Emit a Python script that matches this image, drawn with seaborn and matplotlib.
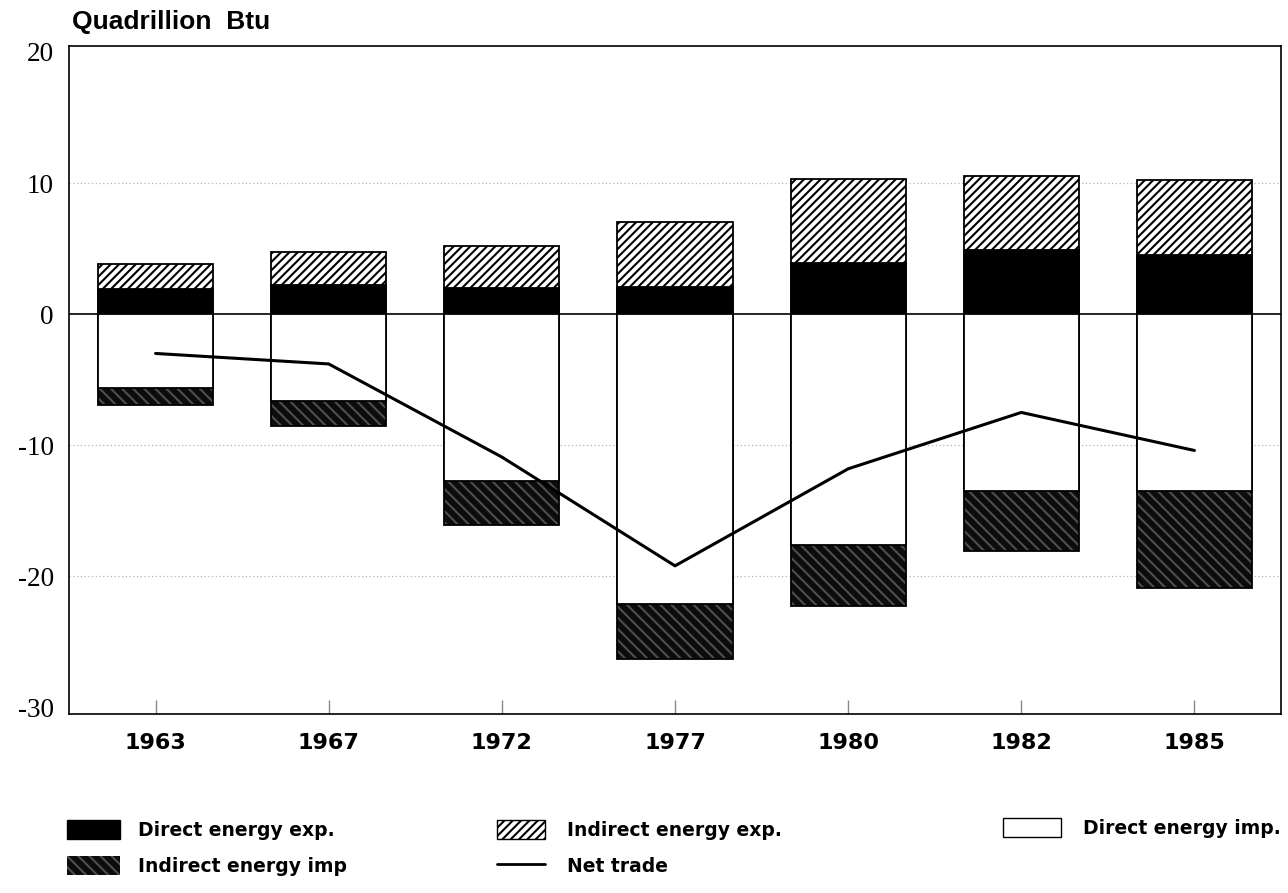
import numpy as np
import matplotlib
matplotlib.use("Agg")
import matplotlib.pyplot as plt
import seaborn as sns
from matplotlib.patches import Patch
from matplotlib.lines import Line2D

# ---- data ----
years = ["1963", "1967", "1972", "1977", "1980", "1982", "1985"]
direct_exp = [1.9, 2.2, 2.0, 2.1, 3.9, 4.9, 4.5]
indirect_exp = [1.9, 2.5, 3.2, 4.9, 6.4, 5.6, 5.7]
direct_imp = [5.6, 6.6, 12.7, 22.1, 17.6, 13.5, 13.5]
indirect_imp = [1.3, 1.9, 3.4, 4.2, 4.7, 4.6, 7.4]
net_trade = [-3.0, -3.8, -10.9, -19.2, -11.8, -7.5, -10.4]
ytick_vals = [20, 10, 0, -10, -20, -30]
ytick_labels = ["20", "10", "0", "-10", "-20", "-30"]
grid_vals = [10, -10, -20]
legend_labels = ["Direct energy exp.", "Indirect energy exp.", "Direct energy imp.",
                 "Indirect energy imp", "Net trade"]
unit_label = "Quadrillion  Btu"

sns.set_theme(style="white")
plt.rcParams["font.family"] = ["DejaVu Sans"]
plt.rcParams["hatch.linewidth"] = 1.5
plt.rcParams["text.color"] = "black"
plt.rcParams["xtick.color"] = "black"
plt.rcParams["ytick.color"] = "black"

exp_total = np.array(direct_exp) + np.array(indirect_exp)
imp_total = -(np.array(direct_imp) + np.array(indirect_imp))
imp_direct = -np.array(direct_imp)

fig = plt.figure(figsize=(12.88, 8.93), dpi=100)
ax = fig.add_axes([69 / 1288, 1 - 714 / 893, (1281 - 69) / 1288, (714 - 46) / 893])

W = 0.665
DARK = "#0c0c0c"
HATCH_GRAY = "#4e4e4e"
EXP_HATCH = "////"
IMP_HATCH = "\\\\\\"
common = dict(width=W, saturation=1, errorbar=None, ax=ax, zorder=3)

# exports: total (hatched) first, direct (black) over it
sns.barplot(x=years, y=exp_total, color="white", edgecolor="black", linewidth=1.3,
            hatch=EXP_HATCH, **common)
sns.barplot(x=years, y=direct_exp, color="black", edgecolor="black", linewidth=1.3, **common)
# imports: total (dark hatched) first, direct (white) over it
sns.barplot(x=years, y=imp_total, color=DARK, edgecolor=HATCH_GRAY, linewidth=0,
            hatch=IMP_HATCH, **common)
sns.barplot(x=years, y=imp_total, color=DARK, edgecolor="black", linewidth=1.3,
            fill=False, **common)
sns.barplot(x=years, y=imp_direct, color="white", edgecolor="black", linewidth=1.3, **common)

# net trade line
sns.lineplot(x=np.arange(len(years)), y=net_trade, color="black", linewidth=2.2,
             ax=ax, zorder=6)

ax.axhline(0, color="black", linewidth=1.2, zorder=2)
for g in grid_vals:
    ax.axhline(g, color="#b5b5b5", linestyle=(0, (1, 2)), linewidth=0.9, zorder=1)

ax.set_xlim(-0.5, 6.5)
ax.set_ylim(-30.5, 20.45)
ax.set_yticks(ytick_vals, labels=ytick_labels)
ax.set_xticks(np.arange(len(years)), labels=years)
ax.set_xlabel("")
ax.set_ylabel("")
ax.grid(False)

ax.tick_params(axis="x", direction="in", length=10, width=1, color="#888888",
               pad=14, labelsize=16, bottom=True, labelcolor="black")
for lbl in ax.get_xticklabels():
    lbl.set_fontweight("bold")
    lbl.set_family("DejaVu Sans")
ax.tick_params(axis="y", length=0, pad=11, labelsize=19.5, labelcolor="black")
for lbl in ax.get_yticklabels():
    lbl.set_family("Liberation Serif")

for s in ax.spines.values():
    s.set_visible(True)
    s.set_color("black")
    s.set_linewidth(1.2)

fig.text(72 / 1288, 1 - 22 / 893, unit_label, fontsize=19, fontweight="bold",
         family="Liberation Sans", ha="left", va="center", color="black")

# legend (three columns, placed like the reference)
fs = 13.5
em = fs * 100 / 72
prop = {"family": "DejaVu Sans", "weight": "bold", "size": fs}
h_dexp = Patch(facecolor="black", edgecolor="black", linewidth=1)
h_iexp = Patch(facecolor="white", edgecolor="black", hatch=EXP_HATCH, linewidth=1)
h_dimp = Patch(facecolor="white", edgecolor="black", linewidth=1)
h_iimp = Patch(facecolor=DARK, edgecolor=HATCH_GRAY, hatch=IMP_HATCH, linewidth=0)
h_net = Line2D([0], [0], color="black", linewidth=2)

base = dict(loc="center left", frameon=False, borderpad=0, borderaxespad=0,
            prop=prop, labelspacing=0.85, handleheight=22 / em, labelcolor="black")
y_mid = 1 - 848 / 893
y_row1 = 1 - 828 / 893
fig.legend([h_dexp, h_iimp], [legend_labels[0], legend_labels[3]],
           bbox_to_anchor=(67 / 1288, y_mid), handlelength=53 / em,
           handletextpad=(138 - 120) / em, **base)
fig.legend([h_iexp, h_net], [legend_labels[1], legend_labels[4]],
           bbox_to_anchor=(497 / 1288, y_mid), handlelength=48 / em,
           handletextpad=(567 - 545) / em, **base)
fig.legend([h_dimp], [legend_labels[2]],
           bbox_to_anchor=(1003 / 1288, y_row1), handlelength=58 / em,
           handletextpad=(1083 - 1061) / em, **base)

fig.savefig("out.png", dpi=100)
